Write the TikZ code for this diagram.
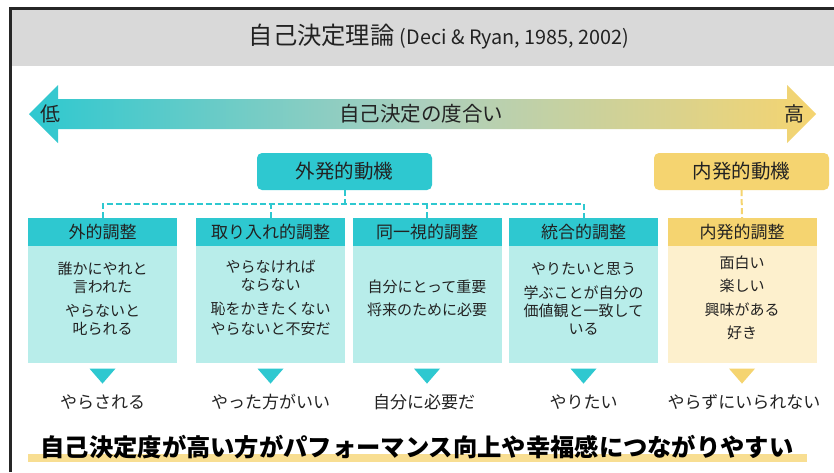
\documentclass[tikz,border=0pt]{standalone}
\usepackage{fontspec}
\setmainfont{Noto Sans CJK JP}
\definecolor{cy}{HTML}{2EC8D0}
\definecolor{cyl}{HTML}{B8EDEA}
\definecolor{ye}{HTML}{F5D470}
\definecolor{yel}{HTML}{FDF0CD}
\definecolor{band}{HTML}{D9D9D9}
\definecolor{hl}{HTML}{F8DE92}
\definecolor{ink}{HTML}{222222}
\definecolor{midc}{HTML}{ABCFBD}
\begin{document}
\begin{tikzpicture}[x=1pt,y=-1pt,
  every node/.style={text=ink, inner sep=0pt},
  motbox/.style={rounded corners=5pt, minimum width=175pt, minimum height=37pt, font=\fontsize{19.5}{22}\selectfont},
  headbox/.style={minimum width=149pt, minimum height=28pt, font=\fontsize{17}{20}\selectfont},
  bodybox/.style={minimum width=149pt, minimum height=117pt},
  bodytext/.style={align=center, font=\fontsize{15}{18}\selectfont},
  outtext/.style={font=\fontsize{17}{20}\selectfont},
  dsh/.style={line width=2pt, dash pattern=on 6pt off 3pt}
]
\useasboundingbox (0,0) rectangle (834,472);
\fill[white] (0,0) rectangle (834,472);
% title band and frame
\fill[band] (10.5,8.5) rectangle (834,66);
\draw[line width=3pt, black!85] (10.5,472) -- (10.5,8.5) -- (834,8.5);
\node (title) at (439,37) {\fontsize{24.3}{28}\selectfont 自己決定理論\ {\fontsize{19.8}{22}\selectfont (Deci \& Ryan, 1985, 2002)}};
% gradient arrow
\shade[left color=cy, right color=ye, middle color=midc]
  (29,114) -- (58,85) -- (58,99) -- (787,99) -- (787,85) -- (816,114)
  -- (787,143) -- (787,129) -- (58,129) -- (58,143) -- cycle;
\node[font=\fontsize{20}{22}\selectfont] (low) at (50,114) {低};
\node[font=\fontsize{20}{22}\selectfont] (high) at (794,114) {高};
\node[font=\fontsize{20.5}{22}\selectfont] (deg) at (421,114) {自己決定の度合い};
% motivation boxes
\node[motbox, fill=cy] (ext) at (344.5,171.5) {外発的動機};
\node[motbox, fill=ye] (int) at (741.5,171.5) {内発的動機};
% headers and bodies
\node[headbox, fill=cy] (h1) at (102.5,232) {外的調整};
\node[headbox, fill=cy] (h2) at (270.5,232) {取り入れ的調整};
\node[headbox, fill=cy] (h3) at (427,232) {同一視的調整};
\node[headbox, fill=cy] (h4) at (583.5,232) {統合的調整};
\node[headbox, fill=ye] (h5) at (742,232) {内発的調整};
\node[bodybox, fill=cyl, anchor=north] (b1) at (h1.south) {};
\node[bodybox, fill=cyl, anchor=north] (b2) at (h2.south) {};
\node[bodybox, fill=cyl, anchor=north] (b3) at (h3.south) {};
\node[bodybox, fill=cyl, anchor=north] (b4) at (h4.south) {};
\node[bodybox, fill=yel, anchor=north] (b5) at (h5.south) {};
\node[bodytext] (t1) at (102.5,299) {誰かにやれと\\言われた\\[6pt]やらないと\\叱られる};
\node[bodytext] (t2) at (270.5,298) {やらなければ\\ならない\\[6pt]恥をかきたくない\\[2pt]やらないと不安だ};
\node[bodytext] (t3) at (427,298.5) {自分にとって重要\\[5pt]将来のために必要};
\node[bodytext] (t4) at (583.5,298.5) {やりたいと思う\\[6pt]学ぶことが自分の\\価値観と一致して\\いる};
\node[bodytext, font=\fontsize{15}{23.5}\selectfont] (t5) at (742,298) {面白い\\楽しい\\興味がある\\好き};
% dashed connectors
\coordinate (bus) at (0,204);
\draw[dsh, cy] (ext.south) -- (ext.south |- bus);
\draw[dsh, cy] (h1.north) -- (h1.north |- bus) -- (h4.north |- bus) -- (h4.north);
\draw[dsh, cy] (h2.north) -- (h2.north |- bus);
\draw[dsh, cy] (h3.north) -- (h3.north |- bus);
\draw[dsh, ye] (int.south) -- (h5.north);
% triangles
\foreach \b/\c in {b1/cy, b2/cy, b3/cy, b4/cy, b5/ye}{
  \fill[\c] ([xshift=-13pt, yshift=-5pt]\b.south) -- ([xshift=13pt, yshift=-5pt]\b.south) -- ([yshift=-20pt]\b.south) -- cycle;
}
% outcomes
\node[outtext] (o1) at (102.5,402) {やらされる};
\node[outtext] (o2) at (270.5,402) {やった方がいい};
\node[outtext] (o3) at (424,402) {自分に必要だ};
\node[outtext] (o4) at (583.5,402) {やりたい};
\node[outtext] (o5) at (744,402) {やらずにいられない};
% conclusion
\fill[hl] (28,454) rectangle (807,462);
\node[font=\fontsize{24.3}{28}\selectfont\bfseries, text=black] (concl) at (417,447) {自己決定度が高い方がパフォーマンス向上や幸福感につながりやすい};
\end{tikzpicture}
\end{document}
